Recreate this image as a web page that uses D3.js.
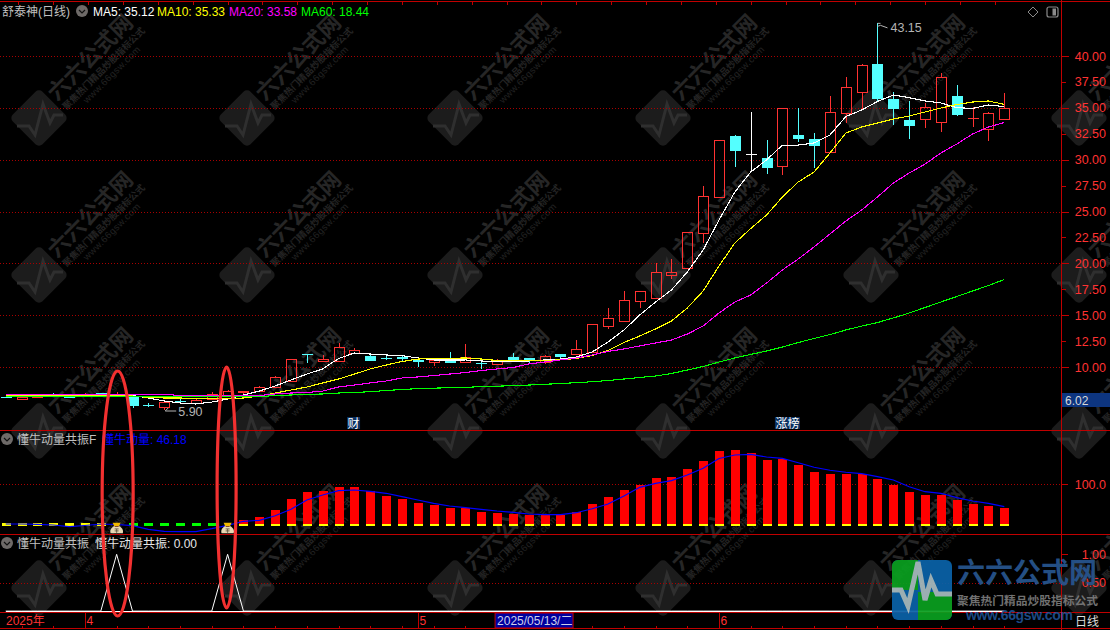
<!DOCTYPE html>
<html><head><meta charset="utf-8">
<script src="https://cdnjs.cloudflare.com/ajax/libs/d3/7.8.5/d3.min.js"></script>
<style>
html,body{margin:0;padding:0;background:#000;overflow:hidden}
svg{display:block}
text{font-family:"Liberation Sans","Noto Sans CJK SC",sans-serif;font-size:12px}
</style></head><body><svg id="c" width="1110" height="630"></svg>
<script>
const opens=[7.14,6.91,7.06,7.30,7.14,7.20,7.46,7.25,7.08,6.34,6.17,6.76,6.50,6.94,7.33,7.59,7.66,8.07,8.68,11.23,10.55,10.61,11.38,11.09,10.85,10.96,10.70,10.51,10.77,10.51,10.42,10.32,10.96,10.84,10.45,11.23,11.28,11.48,13.98,14.47,16.40,16.68,18.90,19.52,22.95,26.43,32.28,30.52,30.16,29.42,32.38,31.96,30.71,34.53,36.55,39.23,35.85,33.80,33.89,33.66,36.18,33.98,32.99,33.89];
const highs=[7.14,7.14,7.20,7.46,7.14,7.46,7.46,7.56,7.20,6.56,6.75,6.88,7.01,7.62,7.81,7.71,8.14,9.16,10.80,11.23,11.13,12.29,11.83,11.35,11.06,11.09,10.84,10.65,11.42,12.22,10.58,10.77,11.35,10.84,11.16,11.23,12.60,14.12,15.69,17.33,17.30,20.03,20.42,22.99,27.46,31.86,32.38,34.60,31.90,34.95,34.98,32.57,36.15,37.95,39.20,43.15,36.50,35.63,35.50,38.33,37.17,35.11,34.63,36.40];
const lows=[7.08,6.91,7.06,7.20,7.04,7.20,7.30,7.25,6.00,6.17,5.90,6.56,6.50,6.94,7.33,7.20,7.66,8.07,8.68,10.36,10.55,10.61,11.38,10.58,10.68,10.51,10.03,10.13,10.41,10.51,9.84,10.32,10.55,10.41,10.29,10.70,11.28,11.48,13.67,14.47,15.72,16.68,18.49,19.52,21.99,26.43,29.32,28.81,28.62,28.52,31.70,29.20,30.64,33.57,34.79,35.66,33.37,32.02,33.08,32.70,34.21,33.18,31.83,33.89];
const closes=[7.08,7.14,7.20,7.20,7.04,7.30,7.30,7.40,6.27,6.33,6.62,6.75,6.82,7.37,7.68,7.71,8.04,9.01,10.80,11.13,10.74,11.90,11.61,10.58,10.84,10.77,10.48,10.65,10.41,10.94,10.41,10.65,10.55,10.55,11.03,10.96,11.71,14.12,14.70,16.43,17.30,19.13,19.13,22.99,26.47,31.86,30.86,30.52,29.22,34.95,32.02,31.35,34.57,36.98,39.10,35.88,34.91,33.28,35.05,38.00,34.31,33.99,34.53,34.95];
const ma5=[7.25,7.25,7.25,7.25,7.25,7.25,7.25,7.25,7.25,7.01,6.72,6.53,6.43,6.62,6.91,7.30,7.68,8.17,8.75,9.32,9.81,10.82,11.35,11.25,11.16,11.09,10.87,10.68,10.68,10.68,10.58,10.51,10.53,10.58,10.68,10.77,10.96,11.45,12.41,13.57,15.02,16.27,17.43,19.16,21.29,24.18,26.88,28.81,29.97,31.41,31.41,31.61,32.38,34.16,34.79,35.61,36.24,35.98,35.66,35.47,35.01,34.95,35.27,35.12];
const ma10=[7.20,7.20,7.20,7.20,7.20,7.20,7.20,7.20,7.20,7.06,7.01,7.01,6.96,6.96,6.96,7.01,7.20,7.49,7.78,8.07,8.46,8.84,9.32,9.81,10.19,10.53,10.77,10.82,10.84,10.87,10.77,10.63,10.63,10.63,10.65,10.68,10.82,11.11,11.59,12.36,12.99,13.67,14.44,15.69,17.33,19.74,21.96,23.35,24.66,26.40,27.85,28.81,30.64,32.57,33.15,33.54,33.92,34.21,34.60,34.98,35.32,35.56,35.66,35.33];
const ma20=[7.37,7.37,7.37,7.37,7.37,7.37,7.37,7.37,7.37,7.37,7.37,7.25,7.22,7.20,7.20,7.20,7.25,7.40,7.49,7.54,7.68,8.07,8.26,8.46,8.65,8.94,9.04,9.18,9.32,9.47,9.66,9.81,9.95,10.29,10.48,10.68,10.87,11.16,11.50,11.74,12.03,12.32,12.60,13.18,13.95,15.21,16.27,16.95,18.10,19.36,20.42,21.58,22.83,24.08,25.14,26.40,27.75,28.71,29.58,30.64,31.51,32.48,33.15,33.58];
const ma60=[7.14,7.14,7.14,7.14,7.14,7.14,7.14,7.14,7.14,7.14,7.14,7.14,7.14,7.14,7.14,7.14,7.14,7.25,7.30,7.35,7.40,7.49,7.54,7.62,7.73,7.83,7.91,7.96,8.00,8.04,8.10,8.15,8.20,8.26,8.33,8.41,8.49,8.58,8.70,8.84,8.99,9.13,9.37,9.71,10.05,10.48,10.87,11.21,11.54,11.93,12.36,12.75,13.13,13.57,13.95,14.29,14.73,15.21,15.74,16.27,16.80,17.33,17.86,18.44];
const momentumBars=[0,0,0,0,0,0,0,0,0,0,0,0,0,0,0,14.2,21.4,38.2,64.7,81.5,83.9,93.5,93.5,82.7,71.9,64.7,55.1,50.2,43.0,43.8,33.4,31.0,28.6,26.2,26.2,26.2,33.4,52.6,69.5,86.3,98.3,115.2,117.6,136.8,156,180,182.5,175.3,158.4,160.8,146.4,129.6,124.8,124.8,124.8,112.8,98.3,81.5,74.3,74.3,62.3,52.6,47.8,43.0];
const momentumLine=[4.6,4.6,3.8,2.2,-1.9,1,4.6,3.4,0.5,-8.2,-13,-13.9,-13.9,-6.7,1.4,11.1,13.5,24.5,39.9,62.3,74.3,84.6,86.3,83.2,78.4,70.2,62.3,54.3,47.8,43.8,39.9,35.8,32.7,28.6,26.9,26.9,31.7,41.3,52.6,71.9,92.8,102.4,108.7,122.4,138.5,162,170.4,172.1,165.6,162.5,151.9,140.9,133.7,128.9,125.5,118.3,110.3,94.2,82.2,78.4,67.8,59.9,54.3,46.18];
const baseLevel=4.6;
const yellowDashIdx=[0,1,2,3,4,5,6];
const greenDashIdx=[8,9,10,11,12,13];
const signalIdx=[7,14];
const resonance=opens.map((_,i)=>signalIdx.includes(i)?1:0);
const priceTicks=[10,12.5,15,17.5,20,22.5,25,27.5,30,32.5,35,37.5,40];
const priceGrid=[10,15,20,25,30,35,40];
const monthTicks=[[5,"4"],[26,"5"],[45,"6"]];
const logoLines=["六六公式网","聚焦热门精品炒股指标公式","www.66gsw.com"];

const W=1110,H=630,axisX=1061.5;
const svg=d3.select("#c");
svg.append("rect").attr("width",W).attr("height",H).attr("fill","#000");
const x=d3.scaleLinear().domain([0,63]).range([5.7,1004.3]);
const yP=d3.scaleLinear().domain([10,40]).range([367,56]);
const yM=d3.scaleLinear().domain([0,100]).range([525.9,484.3]);
const yR=d3.scaleLinear().domain([0,1]).range([611.1,554.3]);
const RED="#ff3232",CYAN="#54ffff",LINE="#a80000";

// watermark tiles
const wm=svg.append("g");
[39,247,455,663,871,1079].forEach(cx=>[118,275,431,588].forEach(cy=>{
  const g=wm.append("g").attr("transform",`translate(${cx},${cy})`);
  g.append("rect").attr("x",-21).attr("y",-21).attr("width",42).attr("height",42).attr("rx",5)
    .attr("transform","rotate(-45)").attr("fill","#1c1c1c");
  g.append("path").attr("d","M-22,8L-10,8L-4,17L4,-14L11,5L15,-3L24,-3").attr("fill","none").attr("stroke","#2f2f2f").attr("stroke-width",3);
  const t=g.append("g").attr("transform","rotate(-45)");
  t.append("text").attr("x",24).attr("y",1).text(logoLines[0]).style("font-size","22px").style("font-weight",700).attr("fill","#262626");
  t.append("text").attr("x",25).attr("y",14).text(logoLines[1]).style("font-size","9.3px").style("font-weight",700).attr("fill","#242424");
  t.append("text").attr("x",44).attr("y",24).text(logoLines[2]).style("font-size","9.5px").attr("fill","#222222").attr("textLength",76);
}));

// grid + frame
const grid=svg.append("g").attr("shape-rendering","crispEdges");
const dotted=(y)=>grid.append("line").attr("x1",0).attr("x2",axisX).attr("y1",Math.round(y)+.5).attr("y2",Math.round(y)+.5).attr("stroke",LINE).attr("stroke-dasharray","1 2");
priceGrid.forEach(v=>dotted(yP(v)));
dotted(yM(100));dotted(yR(.5));
const hline=(y,c)=>grid.append("line").attr("x1",0).attr("x2",W).attr("y1",y).attr("y2",y).attr("stroke",c||"#c00000");
[1.5,430.5,534.5,612.5,628.5].forEach(y=>hline(y));
grid.append("line").attr("x1",axisX).attr("x2",axisX).attr("y1",0).attr("y2",H).attr("stroke","#c00000");
// rulers
d3.range(1,64,2).forEach(i=>{
  grid.append("line").attr("x1",Math.round(x(i))+.5).attr("x2",Math.round(x(i))+.5).attr("y1",626).attr("y2",629).attr("stroke","#c00000");
});
d3.range(0.8,64,2.2).forEach(i=>{
  grid.append("line").attr("x1",Math.round(x(i))+.5).attr("x2",Math.round(x(i))+.5).attr("y1",1).attr("y2",5).attr("stroke","#c00000");
});
monthTicks.forEach(([i])=>grid.append("line").attr("x1",Math.round(x(i))+.5).attr("x2",Math.round(x(i))+.5).attr("y1",612).attr("y2",629).attr("stroke","#c00000"));

// axes
function styleAxis(g){
  g.select(".domain").remove();
  g.selectAll(".tick line").attr("stroke","#c00000").attr("shape-rendering","crispEdges");
  g.selectAll(".tick text").attr("fill",RED).attr("text-anchor","end").attr("x",1106-axisX).style("font-size","12.5px");
}
const axP=svg.append("g").attr("transform",`translate(${axisX},0)`).call(d3.axisRight(yP).tickValues(priceTicks).tickFormat(d3.format(".2f")).tickSize(6));
styleAxis(axP);
axP.selectAll(".tick line").attr("x2",d=>d%5===0?7:4);
const axM=svg.append("g").attr("transform",`translate(${axisX},0)`).call(d3.axisRight(yM).tickValues([100]).tickFormat(d3.format(".1f")).tickSize(6));
styleAxis(axM);
const axR=svg.append("g").attr("transform",`translate(${axisX},0)`).call(d3.axisRight(yR).tickValues([1,.5]).tickFormat(d3.format(".2f")).tickSize(6));
styleAxis(axR);

// candles
const ck=svg.append("g").attr("shape-rendering","crispEdges");
opens.forEach((o,i)=>{
  const c=closes[i],cx=Math.round(x(i))+.5,flat=o===c,up=c>o;
  const col=flat?"#ffffff":up?RED:CYAN;
  const yt=Math.round(yP(Math.max(o,c))),yb=Math.round(yP(Math.min(o,c)));
  const yh=Math.round(yP(highs[i])),yl=Math.round(yP(lows[i]));
  if(yh<yt)ck.append("line").attr("x1",cx).attr("x2",cx).attr("y1",yh).attr("y2",yt).attr("stroke",col);
  if(yl>yb)ck.append("line").attr("x1",cx).attr("x2",cx).attr("y1",yb).attr("y2",yl).attr("stroke",col);
  if(up&&yb-yt>=1){
    ck.append("rect").attr("x",cx-5).attr("y",yt+.5).attr("width",10).attr("height",yb-yt).attr("fill","none").attr("stroke",col).attr("stroke-width",1);
  }else{
    ck.append("rect").attr("x",cx-5.5).attr("y",yt).attr("width",11).attr("height",Math.max(1,yb-yt)).attr("fill",col);
  }
});
// MA lines
const lineP=d3.line().x((d,i)=>x(i)).y(d=>yP(d));
[[ma5,"#ffffff"],[ma10,"#ffff00"],[ma20,"#ff00ff"],[ma60,"#00ff00"]].forEach(([s,c])=>{
  svg.append("path").attr("d",lineP(s)).attr("fill","none").attr("stroke",c).attr("stroke-width",1.1).attr("shape-rendering","crispEdges");
});
// high / low notes
const noteC="#b4b4b4";
const hiX=x(55),hiY=yP(43.15);
svg.append("path").attr("d",`M${hiX},${hiY}L${hiX+3},${hiY}M${hiX},${hiY+3}L${hiX+3},${hiY+2}L${hiX+10},${hiY+4.5}`).attr("fill","none").attr("stroke",noteC);
svg.append("text").attr("x",hiX+13).attr("y",hiY+9).attr("fill",noteC).text(d3.format(".2f")(43.15)).style("font-size","12.5px");
const loX=x(10),loY=yP(5.90)+1.5;
svg.append("path").attr("d",`M${loX+12},${loY}L${loX+1},${loY}L${loX+4},${loY-3}`).attr("fill","none").attr("stroke",noteC);
svg.append("text").attr("x",loX+14).attr("y",loY+4.5).attr("fill",noteC).text(d3.format(".2f")(5.90)).style("font-size","12.5px");

// momentum panel
const mp=svg.append("g").attr("shape-rendering","crispEdges");
momentumBars.forEach((v,i)=>{
  const cx=Math.round(x(i));
  if(v>baseLevel){
    mp.append("rect").attr("x",cx-4).attr("width",9).attr("y",Math.round(yM(v))).attr("height",Math.round(yM(baseLevel))-Math.round(yM(v))).attr("fill","#ff0000");
    mp.append("rect").attr("x",cx-4).attr("width",9).attr("y",Math.round(yM(baseLevel))).attr("height",2).attr("fill","#ffff00");
  }
});
const dash=(idx,c)=>idx.forEach(i=>mp.append("rect").attr("x",Math.round(x(i))-4).attr("width",9).attr("y",Math.round(yM(baseLevel))-1).attr("height",3).attr("fill",c));
dash(yellowDashIdx,"#ffff00");dash(greenDashIdx,"#00ff00");
svg.append("path").attr("d",d3.line().x((d,i)=>x(i)).y(d=>yM(d))(momentumLine)).attr("fill","none").attr("stroke","#0000ff").attr("stroke-width",1.2);
// money bag icons
signalIdx.forEach(i=>{
  const g=svg.append("g").attr("transform",`translate(${x(i)},${yM(0)})`);
  g.append("path").attr("d","M-2.5,0C-6,2 -7,5 -6,7.4L6,7.4C7,5 6,2 2.5,0Z").attr("fill","#e6d8b4");
  g.append("path").attr("d","M-4,-3.2L4,-3.2L2.5,0L-2.5,0Z").attr("fill","#f0b800");
  g.append("path").attr("d","M-2,0.6L2,0.6").attr("stroke","#7a3a20").attr("stroke-width",.9);
  g.append("path").attr("d","M-2,3L2,3M0,3L0,7M-2,5L2,5").attr("stroke","#5a4c38").attr("stroke-width",.8).attr("fill","none");
});
// resonance panel
const yBase=yR(0);
svg.append("path").attr("d",d3.line().x((d,i)=>x(i)).y(d=>yR(d))(resonance)).attr("fill","none").attr("stroke","#ffffff").attr("stroke-width",1);
svg.append("line").attr("x1",x(0)).attr("x2",x(63)).attr("y1",yBase+.4).attr("y2",yBase+.4).attr("stroke","#fff").attr("stroke-width",1.4).attr("shape-rendering","crispEdges");

// headers
const label=(xx,yy,t,c,fs)=>svg.append("text").attr("x",xx).attr("y",yy).attr("fill",c).text(t).style("font-size",(fs||12)+"px");
const chevron=(cx,cy)=>{
  svg.append("circle").attr("cx",cx).attr("cy",cy).attr("r",6).attr("fill","#6e6a68");
  svg.append("path").attr("d",`M${cx-3},${cy-1}L${cx},${cy+2}L${cx+3},${cy-1}`).attr("fill","none").attr("stroke","#111").attr("stroke-width",1.2);
};
label(2,15.5,"舒泰神(日线)","#c0c0c0");
chevron(82,11);
const fmt2=d3.format(".2f");
label(93,15.5,"MA5: "+fmt2(ma5[63]),"#ffffff");
label(157,15.5,"MA10: "+fmt2(ma10[63]),"#ffff00");
label(229,15.5,"MA20: "+fmt2(ma20[63]),"#ff00ff");
label(301,15.5,"MA60: "+fmt2(ma60[63]),"#00ff00");
chevron(7,439);
label(17,443.5,"懂牛动量共振F","#c0c0c0");
label(102,443.5,"懂牛动量: "+fmt2(momentumLine[63]),"#0000ff");
chevron(7,543);
label(17,547.5,"懂牛动量共振","#c0c0c0");
label(95,547.5,"懂牛动量共振: "+fmt2(resonance[63]),"#e8e8e8");

// tags
const tag=(x0,w,t)=>{svg.append("rect").attr("x",x0).attr("y",417).attr("width",w).attr("height",12).attr("fill","#0a3060");
  svg.append("text").attr("x",x0+w/2).attr("y",427.5).attr("text-anchor","middle").attr("fill","#ffffff").text(t);};
tag(x(21)+8.5,13,"财");tag(x(49)-7.5,25,"涨榜");

// last-price box
svg.append("rect").attr("x",axisX+.5).attr("y",393).attr("width",W-axisX).attr("height",14).attr("fill","#0d3580");
label(1065,404.5,"6.02","#d8d8d8");

// top-right icons
svg.append("path").attr("d","M1033,7L1038,12L1033,17L1028,12Z").attr("fill","none").attr("stroke","#8a8a8a");
svg.append("rect").attr("x",1047).attr("y",7).attr("width",11).attr("height",10).attr("rx",2).attr("fill","none").attr("stroke","#8a8a8a").attr("stroke-width",1.2);
svg.append("rect").attr("x",1052.5).attr("y",8.5).attr("width",3.5).attr("height",7).attr("fill","#8a8a8a");

// x labels
label(6,625,"2025年",RED);
monthTicks.forEach(([i,t])=>label(Math.round(x(i))+1.5,625,t,RED));
svg.append("rect").attr("x",x(31)-2).attr("y",613).attr("width",78).attr("height",15).attr("fill","#0000a0").attr("stroke","#c00000");
label(x(31),625,"2025/05/13/二","#d0d0e8");

// site logo
const lg=svg.append("g").attr("opacity",.93);
const clip=svg.append("clipPath").attr("id","lc");
clip.append("rect").attr("x",892).attr("y",560).attr("width",60).attr("height",60).attr("rx",6);
const lb=lg.append("g").attr("clip-path","url(#lc)");
lb.append("rect").attr("x",892).attr("y",560).attr("width",60).attr("height",60).attr("fill","#0a62a8");
lb.append("path").attr("d","M892,560L918,560L918,590L892,590Z").attr("fill","#0aa020");
lb.append("path").attr("d","M918,592L952,592L952,620L918,620Z").attr("fill","#0aa020");
lb.append("path").attr("d","M892,590L901,590L908,606L918,562L925,600L931,580L937,594L952,594").attr("fill","none").attr("stroke","#a8bcc0").attr("stroke-width",5);
lg.append("text").attr("x",957).attr("y",583).attr("fill","#27558f").text(logoLines[0]).style("font-size","28px").style("font-weight",700);
lg.append("text").attr("x",957).attr("y",605).attr("fill","#7a7a7a").text(logoLines[1]).style("font-size","11.75px").style("font-weight",700);
lg.append("text").attr("x",966).attr("y",620).attr("fill","#1f4f8f").attr("textLength",107).text(logoLines[2]).style("font-size","14px").style("font-weight",700);
label(1075,626,"日线","#dddddd");

// annotation ellipses
[[x(7)+1,493.5,17,124],[x(14)-1,487.5,11,122]].forEach(([cx,cy,rx,ry])=>{
  svg.append("ellipse").attr("cx",cx).attr("cy",cy).attr("rx",rx-1.5).attr("ry",ry-1.5).attr("fill","none").attr("stroke","#f23030").attr("stroke-width",3.2);
});
</script></body></html>
